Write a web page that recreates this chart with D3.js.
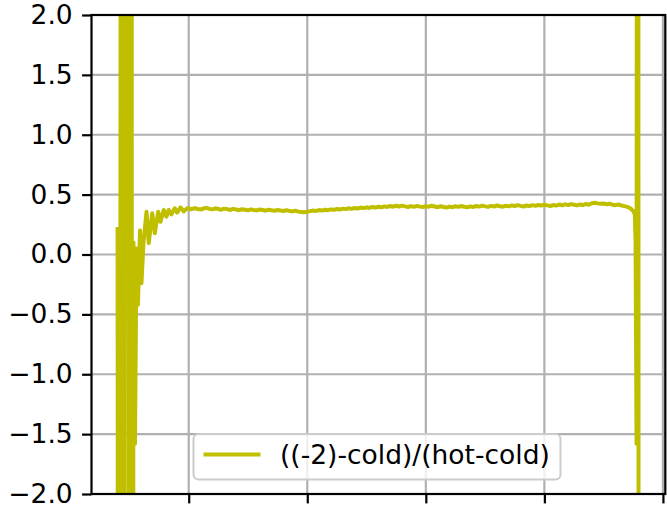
<!DOCTYPE html>
<html>
<head>
<meta charset="utf-8">
<script src="https://cdn.jsdelivr.net/npm/d3@7"></script>
<style>
  html, body { margin: 0; padding: 0; background: #fff; }
  svg { display: block; font-family: "DejaVu Sans", sans-serif; }
</style>
</head>
<body>
<svg id="chart" width="667" height="508"></svg>
<script>
// ---- data ----
const seriesName = "((-2)-cold)/(hot-cold)";
const xTicks = [200, 400, 600, 800, 1000];
const yTicks = [-2.0, -1.5, -1.0, -0.5, 0.0, 0.5, 1.0, 1.5, 2.0];

// left edge: spikes and ringing
const xLeft = [80, 82.4, 87.1, 89.1, 93.2, 95.9, 99.9, 103.6, 104.3, 106.8, 109.4, 111.9, 114.4, 117.8, 120.3, 123.7,
  128.8, 132.6, 138.4, 142.8, 148.5, 152.4, 157.9, 162.5, 166.4, 170.9, 176.5, 180.5, 186.1, 191.7, 197.4];
const yLeft = [0.23, -20, 20, -20, 20, 20, -20, 20, -20, 0.10, -1.58, 0.05, -0.42, 0.20, -0.24, 0.10,
  0.357, 0.096, 0.344, 0.177, 0.357, 0.274, 0.372, 0.316, 0.372, 0.335, 0.386, 0.350, 0.394, 0.360, 0.386];

// flat band
const xFlat = [200,205,210,215,220,225,230,235,240,245,250,255,260,265,270,275,280,285,290,295,
  300,305,310,315,320,325,330,335,340,345,350,355,360,365,370,375,380,385,390,395,
  400,405,410,415,420,425,430,435,440,445,450,455,460,465,470,475,480,485,490,495,
  500,505,510,515,520,525,530,535,540,545,550,555,560,565,570,575,580,585,590,595,
  600,605,610,615,620,625,630,635,640,645,650,655,660,665,670,675,680,685,690,695,
  700,705,710,715,720,725,730,735,740,745,750,755,760,765,770,775,780,785,790,795,
  800,805,810,815,820,825,830,835,840,845,850,855,860,865,870,875,880,885,890,895,
  900,905,910,915,920,925,930,935,940,945];
const yFlat = [0.385,0.378,0.388,0.380,0.376,0.384,0.390,0.381,0.377,0.386,0.380,0.374,0.383,0.379,0.372,0.381,0.376,0.370,0.378,0.374,
  0.369,0.377,0.372,0.368,0.376,0.371,0.366,0.374,0.369,0.365,0.372,0.367,0.363,0.370,0.364,0.360,0.366,0.358,0.355,0.352,
  0.358,0.362,0.368,0.364,0.371,0.367,0.374,0.370,0.377,0.373,0.380,0.376,0.383,0.379,0.386,0.381,0.389,0.384,0.392,0.387,
  0.394,0.389,0.397,0.392,0.399,0.394,0.402,0.397,0.405,0.399,0.407,0.401,0.408,0.402,0.397,0.404,0.398,0.406,0.400,0.396,
  0.404,0.399,0.407,0.401,0.395,0.403,0.397,0.392,0.400,0.395,0.403,0.398,0.405,0.399,0.394,0.402,0.397,0.405,0.400,0.408,
  0.402,0.398,0.406,0.401,0.409,0.403,0.399,0.407,0.402,0.410,0.405,0.412,0.406,0.401,0.409,0.404,0.412,0.407,0.414,0.409,
  0.416,0.410,0.405,0.413,0.408,0.417,0.411,0.419,0.413,0.421,0.415,0.410,0.418,0.413,0.422,0.416,0.428,0.432,0.427,0.424,
  0.426,0.420,0.424,0.416,0.412,0.418,0.409,0.404,0.398,0.386];

// right edge: roll-off and spike
const xRight = [948, 950.5, 952.6, 953.8, 955.5, 957.5, 960];
const yRight = [0.372, 0.360, 0.335, 0.12, -1.58, 20, -20];

// ---- layout ----
const W = 667, H = 508;
const L = 91.5, R = 665.3, T = 15, B = 494;
const color = "#bfbf00";
const fs = 26.5;
const lw = 4;

const svg = d3.select("#chart");
const x = d3.scaleLinear().domain([36, 1004]).range([L, R]);
const y = d3.scaleLinear().domain([-2, 2]).range([B, T]);

const pts = [];
[[xLeft, yLeft], [xFlat, yFlat], [xRight, yRight]].forEach(([xs, ys]) => {
  xs.forEach((v, i) => pts.push([v, ys[i]]));
});

svg.append("defs").append("clipPath").attr("id", "clip")
  .append("rect").attr("x", L).attr("y", T).attr("width", R - L).attr("height", B - T);

// grid
const grid = svg.append("g").attr("stroke", "#b0b0b0").attr("stroke-width", 2.2);
xTicks.forEach(t => grid.append("line").attr("x1", x(t)).attr("x2", x(t)).attr("y1", T).attr("y2", B));
yTicks.forEach(t => grid.append("line").attr("x1", L).attr("x2", R).attr("y1", y(t)).attr("y2", y(t)));

// data line
svg.append("path")
  .datum(pts)
  .attr("clip-path", "url(#clip)")
  .attr("fill", "none")
  .attr("stroke", color)
  .attr("stroke-width", lw)
  .attr("stroke-linejoin", "round")
  .attr("d", d3.line().x(d => x(d[0])).y(d => y(d[1])));

// axes
const yAxis = d3.axisLeft(y).tickValues(yTicks).tickFormat(d3.format(".1f")).tickSize(9.4).tickPadding(9.4);
const gy = svg.append("g").attr("transform", `translate(${L},0)`).call(yAxis);
gy.select(".domain").remove();
gy.selectAll(".tick line").attr("stroke", "#000").attr("stroke-width", 2.2);
gy.selectAll(".tick text").attr("font-size", fs).attr("font-family", "DejaVu Sans").attr("fill", "#000");

const xAxis = d3.axisBottom(x).tickValues(xTicks).tickFormat("").tickSize(9.4);
const gx = svg.append("g").attr("transform", `translate(0,${B})`).call(xAxis);
gx.select(".domain").remove();
gx.selectAll(".tick line").attr("stroke", "#000").attr("stroke-width", 2.2);

// spines
svg.append("rect").attr("x", L).attr("y", T).attr("width", R - L).attr("height", B - T)
  .attr("fill", "none").attr("stroke", "#000").attr("stroke-width", 2.2);

// legend (lower center)
const lg = svg.append("g");
lg.append("rect").attr("x", 193.5).attr("y", 434).attr("width", 367).attr("height", 45.5)
  .attr("rx", 5).attr("fill", "#fff").attr("fill-opacity", 0.8)
  .attr("stroke", "#cccccc").attr("stroke-width", 2);
lg.append("line").attr("x1", 203.5).attr("x2", 260.5).attr("y1", 454.5).attr("y2", 454.5)
  .attr("stroke", color).attr("stroke-width", lw);
lg.append("text").attr("x", 280).attr("y", 454.5).attr("dy", "0.35em")
  .attr("font-size", fs).attr("fill", "#000").text(seriesName);
</script>
</body>
</html>
